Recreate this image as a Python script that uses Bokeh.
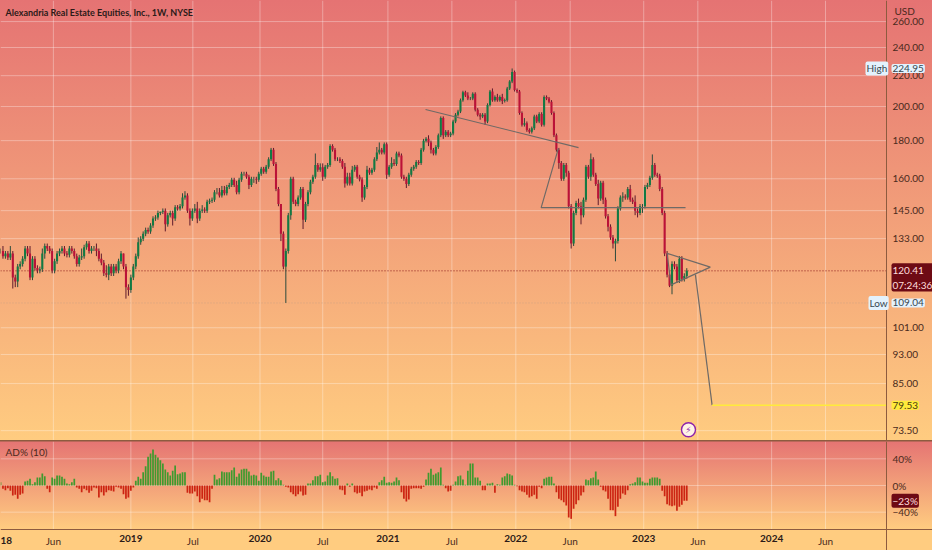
from bokeh.plotting import figure
from bokeh.layouts import column
from bokeh.models import Range1d, FixedTicker, Label, LinearAxis
from bokeh.embed import file_html
from bokeh.resources import INLINE

closes = [
128,126,127,125.5,127,118,116.5,122,123,125,
129,127,118,125,121.5,120.5,121,127,130,129,
128,120.5,124,127,128,129,127,126.5,129,128,
126,123,125.5,126,129.5,131,128,129,129,128,
125,123.5,119.5,119,122,119.5,122,120.5,124,127,
122,114.5,113.5,118,122,126,131.5,133,135,136.6,
136,138.5,141.5,142,144,144.5,145,139,143,144,
141.5,146.5,146,147,151,152,145,141.5,145,146,
141.5,145,145.5,145,149,149.5,150,153.5,153.5,152,
154.5,153,156,157,159.5,157,153.5,159.5,162.5,162.5,
161,157,160,160,159.5,162.5,165,163.5,166,170,
175,167.5,155,148,135,122,128,143,160,149,
148,151,155,141,148,153.5,158.5,161,167,164.5,
165.8,161,166,167,177,175,170,170,169,166,
157.7,161,157.7,164.5,166,161,159.7,151,156,164.5,
163,164.5,170,173.5,175,173.5,178,162,166,168,
167.5,173,172,161,160,157.5,162,165,166,168.5,
168,175,180,181,179,175,173,176.5,183,193,
183,185,183,184,191,195,197,204,209,207,
205,205,208,198,195,194,195,191,201,209.5,
204,206,204,206,203.5,204,211.5,216,222.5,210.5,
209.5,196,189,190,186,185,187,194,191,195.5,
189,206,205,203,196,183,175,168,160,167,
163,147,131,144,148.5,147,143,150,166,161,
170,162,157.5,150.5,158,150,142.5,138,133.5,131,
132,146,151,151.5,151,155,150,149,145,144,
147,147,156,157,160.5,167,162,161.5,155,144,
127,119,115,123,122,117,125,117.5,118.5,120.41,
]
wick_up = [
1,2,1,1,3,1,1,1,1,1,
1,1,3,1,1,1,1,2,1,1,
1,1,1,1,1,1,1,1,1,1,
1,1,1,3,1,1,1,1,1,2,
1,2,1,3,1,1,1,1,1,1,
0,1,1,1,1,1,2,1,1,1,
1,1,1,1,1,0,1,1,1,1,
1,1,1,1,2,2,1,1,1,2,
3,1,2,1,1,1,1,1,2,2,
2,2,1,1,1,1,2,1,1,1,
1,1,1,1,1,1,1,1,1,1,
1,1,1,1,0,1,1,1,1,1,
1,1,1,1,1,1,1,1,6,1,
2,2,1,1,1,1,1,1,1,1,
2,2,2,2,1,1,1,1,1,2,
1,1,1,3,4,1,1,1,1,3,
2,1,1,1,1,1,1,1,1,1,
1,1,1,1,2,1,1,1,1,1,
1,1,1,1,1,1,1,1,1,1,
2,1,1,1,1,1,1,1,1,1,
2,1,2,1,2,1,1,1,2.45,1,
1,1,1,3,1,1,1,1,1,1,
1,1,1,1,1,1,1,1,1,1,
1,1,1,1,1,2,2,1,1,1,
3,1,1,2,1,1,1,1,1,1,
1,1,1,2,1,1,2,1,3,1,
1,1,1,1,1,5.5,1,1,1,1,
1,1,1,1,1,1,1,1,1,1,
]
wick_dn = [
1,1,1,1,1,4,2,2,1,1,
1,1,1,1,1,1,1,1,2,1,
1,1,1,1,1,1,1,1,1,1,
1,1,1,1,1,1,1,1,1,2,
1,1,1,1,2,1,1,1,1,1,
1,4,2,1,1,1,1,1,1,1,
1,1,1,1,1,1,1,3,1,1,
3,1,1,1,1,1,1,3,1,1,
2,1,1,1,1,1,1,1,1,1,
1,1,1,1,1,1,1,1,1,1,
1,2,1,2,2,1,1,1,1,1,
1,1,1,1,3,1,12.96,1,2,1,
1,1,1,4,1,1,1,1,1,1,
1,2,1,1,1,1,1,1,1,1,
2,1,1,1,1,1,1,2,1,1,
1,1,1,1,1,1,1,2,1,1,
1,1,1,1,1,2,1,1,1,1,
1,1,1,1,2,2,1,1,1,1,
2,1,1,1,1,1,1,1,1,1,
1,1,1,1,1,2,1,2,1,1,
1,1,1,1,2,1,1,1,1,1,
1,1,1,1,1,1,1,1,1,1,
1,1,1,1,1,1,1,3,1,1,
2,1,2,1,1,1,4,1,1,1,
2,1,1,3,1,2,1,2,1,2,
7,1,1,2,1,1,1,1,2,2,
1,3,1,1,1,1,1,1,1,1,
1,1,0.5,3,1,1,1,1,1,1,
]
ad_pct = [
5,-5,-7,-4,-8,-15,-14,-20,-14,-12,
6,7,10,2,5,12,12,18,14,-5,
-10,12,10,15,15,13,10,3,2,5,
10,-3,-5,-10,-5,-7,-11,-8,-3,-4,
-18,-10,-15,-10,-7,-8,-9,-2,-3,-5,
-13,-20,-18,-8,-3,7,13,10,20,29,
43,48,54,46,42,38,33,24,20,15,
22,30,17,18,20,20,-11,-12,-12,-9,
-16,-25,-20,-22,-22,-25,-5,16,9,11,
21,20,20,20,23,27,13,18,24,25,
25,21,15,16,15,7,19,15,13,13,
21,22,8,11,8,1,-2,-3,-10,-13,
-16,-13,-9,-15,-14,3,3,8,14,14,
16,5,6,15,20,14,10,11,-6,-7,
-14,3,-2,3,-10,-12,-11,-16,-9,-8,
-6,-7,-3,-5,5,8,13,4,5,4,
6,12,8,-10,-20,-24,-21,-5,-4,-4,
-4,-5,-2,9,19,25,16,18,20,27,
1,-4,-9,-8,1,6,14,15,9,1,
22,33,33,12,12,7,-7,-7,3,3,
4,-11,2,1,12,14,18,17,15,1,
-1,-7,-9,-10,-14,-18,-16,-14,-20,-2,
-4,10,12,13,13,3,-10,-20,-22,-25,
-30,-48,-50,-35,-28,-22,-15,-10,9,8,
11,12,21,9,-2,-7,-9,-20,-37,-37,
-46,-32,-20,-12,-14,-7,2,3,5,12,
12,6,4,4,10,12,12,12,10,-8,
-16,-28,-30,-31,-30,-38,-32,-29,-23,-23,
]

price_ticks = [73.5, 85, 93, 101, 133, 145, 160, 180, 200, 220, 240, 260]
ad_ticks = [-40, 0, 40]
month_ticks = {21.5: "Jun", 78.2: "Jul", 131: "Jul", 183.5: "Jul", 231.6: "Jun", 283.5: "Jun", 335.4: "Jun"}
year_ticks = {53: "2019", 105.5: "2020", 157.5: "2021", 209.5: "2022", 261.5: "2023", 313.5: "2024"}

last_price = 120.41
high_price = 224.95
low_price = 109.04
target_price = 79.53

neck_x, neck_y = [172.8, 235], [198.2, 176.2]
pole_x, pole_y = [226.8, 219.8, 278.5], [175.8, 146.4, 146.4]
tri_x, tri_y = [288.6, 271, 272.6, 288.6], [121.8, 127.1, 115.3, 121.8]
drop_x, drop_y = [282.5, 289.3], [119, 79.53]

FONT = "Lato"
TXT = "#4a2a1c"
GRID = "#ffffff"
GRID_A = 0.33
LINE = "#6f6a66"
AXIS = "#8d5b3f"

idx = list(range(len(closes)))
opens = [closes[0]] + closes[:-1]
highs = [max(o, c) + u for o, c, u in zip(opens, closes, wick_up)]
lows = [min(o, c) - d for o, c, d in zip(opens, closes, wick_dn)]
body_col = ["#127a43" if c >= o else "#bb1238" for o, c in zip(opens, closes)]
wick_col = ["#2b4a3c" if c >= o else "#5e1a2c" for o, c in zip(opens, closes)]
vtick_all = sorted(list(month_ticks) + list(year_ticks))

X_PANE = 360.2                  # right edge of the panes, where the price scale starts
AD_TOP, AD_BOT = 66, -66        # AD pane limits
xr = Range1d(0.0, 378.9)

def style_axis(ax, size="10px", color=TXT, standoff=6):
    ax.major_label_text_font = FONT
    ax.major_label_text_font_size = size
    ax.major_label_text_color = color
    ax.major_tick_line_color = None
    ax.minor_tick_line_color = None
    ax.major_tick_out = 0
    ax.major_tick_in = 0
    ax.minor_tick_out = 0
    ax.minor_tick_in = 0
    ax.major_label_standoff = standoff

p = figure(width=932, height=440, output_backend="svg", toolbar_location=None,
           x_range=xr, y_range=Range1d(71.3, 277.5), y_axis_type="log", y_axis_location="right",
           min_border_left=0, min_border_right=0, min_border_top=0, min_border_bottom=0)
p.styles = {"background": "linear-gradient(#E57373, #FFCC80)"}
p.background_fill_alpha = 0
p.border_fill_alpha = 0
p.outline_line_color = None
p.xaxis.visible = False
p.grid.visible = False

ya = p.yaxis[0]
ya.fixed_location = X_PANE
ya.ticker = FixedTicker(ticks=price_ticks)
ya.major_label_overrides = {t: f"{t:.2f}" for t in price_ticks}
style_axis(ya)
ya.axis_line_color = AXIS

p.segment(vtick_all, [p.y_range.start] * len(vtick_all), vtick_all, [p.y_range.end] * len(vtick_all),
          line_color=GRID, line_alpha=GRID_A, line_width=1)
p.segment([xr.start] * len(price_ticks), price_ticks, [X_PANE] * len(price_ticks), price_ticks,
          line_color=GRID, line_alpha=GRID_A, line_width=1)
p.line([xr.start, X_PANE], [low_price, low_price], line_color="#c9a184", line_alpha=0.8, line_dash="1 2", line_width=1)
p.line([xr.start, X_PANE], [last_price, last_price], line_color="#8e1b1b", line_dash="1 2", line_width=1)

p.segment(idx, lows, idx, highs, color=wick_col, line_width=1)
p.vbar(idx, 0.85, [min(a, b) for a, b in zip(opens, closes)], [max(a, b) for a, b in zip(opens, closes)],
       fill_color=body_col, line_color=None)

for xs, ys in ((neck_x, neck_y), (pole_x, pole_y), (tri_x, tri_y), (drop_x, drop_y)):
    p.line(xs, ys, line_color=LINE, line_width=1.2)
p.line([drop_x[1], X_PANE], [target_price, target_price], line_color="#FFEB3B", line_width=1.5)

p.scatter([279.7], [73.7], size=14, marker="circle", fill_color="#fff3e6", line_color="#8e24aa", line_width=1.4)

def tag(fig, sx, y, text, bg, color, size="10px"):
    fig.add_layout(Label(x=sx, y=y, x_units="screen", text=text, text_font=FONT, text_font_size=size,
                         text_color=color, text_baseline="middle", text_align="left",
                         background_fill_color=bg, padding=1, border_radius=2))

p.add_layout(Label(x=5, y=428, x_units="screen", y_units="screen", text="Alexandria Real Estate Equities, Inc., 1W, NYSE",
                   text_font=FONT, text_font_size="9px", text_font_style="bold", text_color="#2b1a18", text_baseline="middle"))
p.add_layout(Label(x=893, y=430, x_units="screen", y_units="screen", text="USD", text_font=FONT, text_font_size="10px",
                   text_color=TXT, text_baseline="middle", background_fill_color="#E57373", padding=1))
p.add_layout(Label(x=279.7, y=73.7, text="\u26a1", text_font="DejaVu Sans", text_font_size="9px", text_color="#8e24aa",
                   text_align="center", text_baseline="middle"))
tag(p, 865, high_price, "High", "#e3f2fd", "#37474f")
tag(p, 891, high_price, f"{high_price:.2f}", "#e3f2fd", "#37474f")
tag(p, 868, low_price, "Low", "#e3f2fd", "#37474f")
tag(p, 891, low_price, f"{low_price:.2f}", "#e3f2fd", "#37474f")
tag(p, 891, 118, f"{last_price:.2f}\n07:24:36", "#6e0a14", "#ffdcdc")
tag(p, 891, target_price, f"{target_price:.2f}", "#FFEB3B", "#4a3a10")

q = figure(width=932, height=110, output_backend="svg", toolbar_location=None,
           x_range=xr, y_range=Range1d(-97.5, AD_TOP), y_axis_location="right",
           min_border_left=0, min_border_right=0, min_border_top=1, min_border_bottom=0)
q.styles = {"background": "linear-gradient(#8d5b3f,#8d5b3f) 0 0/100% 1.5px no-repeat, "
                          "linear-gradient(#E57373, #FFCC80 89px)"}
q.background_fill_alpha = 0
q.border_fill_alpha = 0
q.outline_line_color = None
q.grid.visible = False

q.segment(vtick_all, [AD_BOT] * len(vtick_all), vtick_all, [AD_TOP] * len(vtick_all),
          line_color=GRID, line_alpha=GRID_A, line_width=1)
q.segment([xr.start] * len(ad_ticks), ad_ticks, [X_PANE] * len(ad_ticks), ad_ticks,
          line_color=GRID, line_alpha=GRID_A, line_width=1)
q.line([xr.start, xr.end], [AD_BOT, AD_BOT], line_color=AXIS, line_width=1)

xa = q.xaxis[0]
xa.fixed_location = AD_BOT
xa.ticker = FixedTicker(ticks=list(month_ticks))
xa.major_label_overrides = dict(month_ticks)
style_axis(xa, standoff=5)
xa.axis_line_color = None

xb = LinearAxis(fixed_location=AD_BOT, ticker=FixedTicker(ticks=list(year_ticks)), major_label_overrides=dict(year_ticks))
style_axis(xb, color="#2b1a18", standoff=5)
xb.major_label_text_font_style = "bold"
xb.axis_line_color = None
q.add_layout(xb, "below")

yb = q.yaxis[0]
yb.fixed_location = X_PANE
yb.ticker = FixedTicker(ticks=ad_ticks)
yb.major_label_overrides = {-40: "\u221240%", 0: "0%", 40: "40%"}
style_axis(yb)
yb.axis_line_color = AXIS

q.vbar(idx, 0.7, 0, ad_pct, fill_color=["#3f9a2f" if v >= 0 else "#cc2412" for v in ad_pct], line_color=None)

q.add_layout(Label(x=5, y=99, x_units="screen", y_units="screen", text="AD% (10)", text_font=FONT, text_font_size="10px",
                   text_color=TXT, text_baseline="middle"))
q.add_layout(Label(x=0, y=10, x_units="screen", y_units="screen", text="18", text_font=FONT, text_font_size="10px",
                   text_font_style="bold", text_color="#2b1a18", text_baseline="middle"))
tag(q, 891, -23, "\u221223%", "#6e0a14", "#ffdcdc")

layout = column(p, q, spacing=0)
open("out.html", "w").write(file_html(layout, INLINE))
